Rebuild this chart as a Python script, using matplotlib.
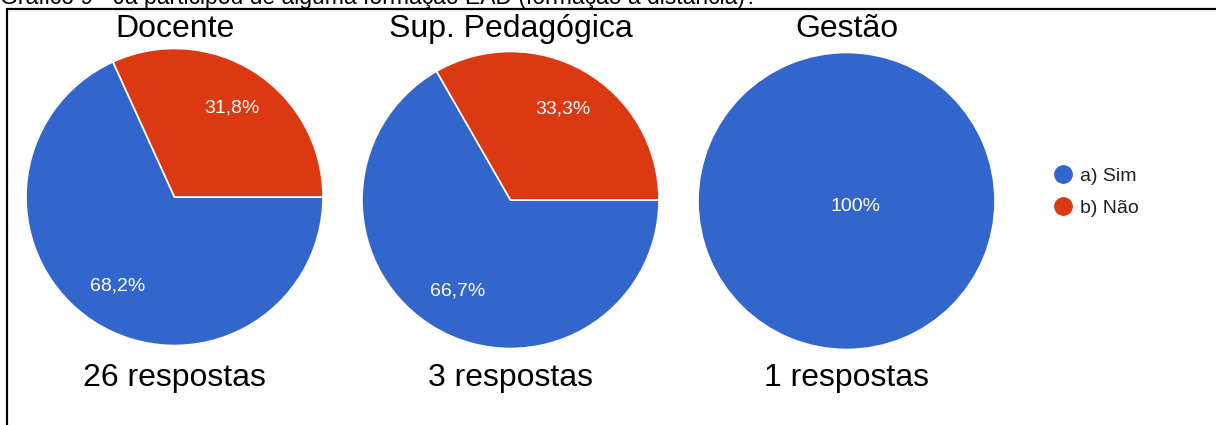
import matplotlib
matplotlib.use('Agg')
import matplotlib.pyplot as plt
from matplotlib.lines import Line2D
from matplotlib.patches import Rectangle

''' Data '''
chart_title = 'Gráfico 9 - Já participou de alguma formação EAD (formação à distância)?'
groups = ['Docente', 'Sup. Pedagógica', 'Gestão']
respostas = [26, 3, 1]
sim_pct = [68.2, 66.7, 100.0]
nao_pct = [31.8, 33.3, 0.0]
legend_labels = ['a) Sim', 'b) Não']

''' Style '''
plt.rcParams['font.family'] = ['Liberation Sans', 'DejaVu Sans']
W, H = 1216, 425
blue = '#3366CC'
red = '#DC3912'

# pie centres / radius in pixels
centres = [(174.5, 197), (510.5, 200), (846.5, 201)]
radius = 148.5

fig = plt.figure(figsize=(W / 100, H / 100), dpi=100)

# clipped title line at top of the screenshot
fig.text(0.0, 1 - 4 / H, chart_title, fontsize=16.5, color='black',
         ha='left', va='baseline')

# outer frame
fig.patches.append(Rectangle((7 / W, -0.1), 1.2, 1 - 9 / H + 0.1, transform=fig.transFigure,
                             fill=False, edgecolor='black', linewidth=1.6))


def pct_fmt(p):
    if p >= 99.95:
        return '100%'
    return f'{p:.1f}%'.replace('.', ',')


for i, g in enumerate(groups):
    cx, cy = centres[i]
    ax = fig.add_axes([(cx - radius) / W, (H - cy - radius) / H, 2 * radius / W, 2 * radius / H])
    vals = [sim_pct[i], nao_pct[i]]
    cols = [blue, red]
    if nao_pct[i] == 0:
        # single full slice, label sits near the middle
        vals = vals[:1]
        cols = cols[:1]
        dist = 0.07
        start = 151
    else:
        dist = 0.71
        start = nao_pct[i] / 100 * 360
    wedges, texts, autotexts = ax.pie(vals, colors=cols, startangle=start, counterclock=True,
                                      autopct=pct_fmt, pctdistance=dist, radius=1,
                                      wedgeprops=dict(edgecolor='white', linewidth=1.2),
                                      textprops=dict(color='white', fontsize=14))
    ax.set_xlim(-1.0, 1.0)
    ax.set_ylim(-1.0, 1.0)
    ax.set_aspect('equal')
    ax.axis('off')

    fig.text(cx / W, 1 - 29 / H, g, fontsize=23, ha='center', va='center')
    fig.text(cx / W, 1 - 378 / H, f'{respostas[i]} respostas', fontsize=23,
             ha='center', va='center')

handles = [Line2D([], [], marker='o', linestyle='none', markersize=12.5,
                  markerfacecolor=c, markeredgecolor=c) for c in (blue, red)]
fig.legend(handles, legend_labels, loc='center left',
           bbox_to_anchor=(1044 / W, 1 - 192 / H), frameon=False,
           fontsize=14, labelcolor='#222222', handlelength=1.0,
           handletextpad=0.35, labelspacing=0.75, borderpad=0)

fig.savefig('out.png', dpi=100)
